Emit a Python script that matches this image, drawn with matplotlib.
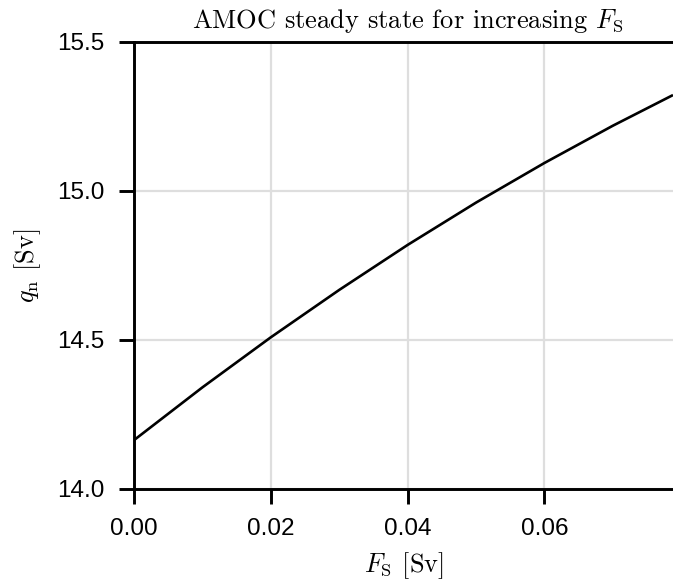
import matplotlib
matplotlib.use("Agg")
import matplotlib.pyplot as plt

# Data
F_S = [0.0, 0.01, 0.02, 0.03, 0.04, 0.05, 0.06, 0.07, 0.0788]
q_n = [14.164, 14.341, 14.509, 14.668, 14.819, 14.961, 15.094, 15.219, 15.322]

x_ticks = [0.00, 0.02, 0.04, 0.06]
x_ticklabels = ["0.00", "0.02", "0.04", "0.06"]
y_ticks = [14.0, 14.5, 15.0, 15.5]
y_ticklabels = ["14.0", "14.5", "15.0", "15.5"]

plt.rcParams["mathtext.fontset"] = "cm"
plt.rcParams["axes.unicode_minus"] = False

W, H = 673, 581
fig = plt.figure(figsize=(W / 100, H / 100), dpi=100)
left, right, bottom, top = 134, 673, 489, 42
ax = fig.add_axes([left / W, 1 - bottom / H, (right - left) / W, (bottom - top) / H])

ax.plot(F_S, q_n, color="black", lw=1.9, solid_capstyle="butt")

ax.set_xlim(0, 0.0788)
ax.set_ylim(14.0, 15.5)
ax.set_xticks(x_ticks)
ax.set_xticklabels(x_ticklabels)
ax.set_yticks(y_ticks)
ax.set_yticklabels(y_ticklabels)

ax.grid(True, color="#dedede", lw=1.6)
ax.set_axisbelow(True)

for s in ["left", "bottom", "top"]:
    ax.spines[s].set_linewidth(2.1)
    ax.spines[s].set_color("black")
ax.spines["right"].set_visible(False)

ax.tick_params(axis="both", direction="out", length=10.5, width=2.1,
               pad=10.5, labelsize=17.5, colors="black")
for lab in ax.get_xticklabels() + ax.get_yticklabels():
    lab.set_family(["Liberation Sans", "DejaVu Sans"])

ax.set_title(r"AMOC steady state for increasing $F_\mathrm{S}$",
             family="cmr10", fontsize=19, pad=10, x=0.508)
ax.set_xlabel(r"$F_\mathrm{S}$ [Sv]", family="cmr10", fontsize=19)
ax.set_ylabel(r"$q_\mathrm{n}$ [Sv]", family="cmr10", fontsize=19)
ax.xaxis.set_label_coords(0.5, -0.138)
ax.yaxis.set_label_coords(-0.169, 0.5)

fig.savefig("out.png", dpi=100)
